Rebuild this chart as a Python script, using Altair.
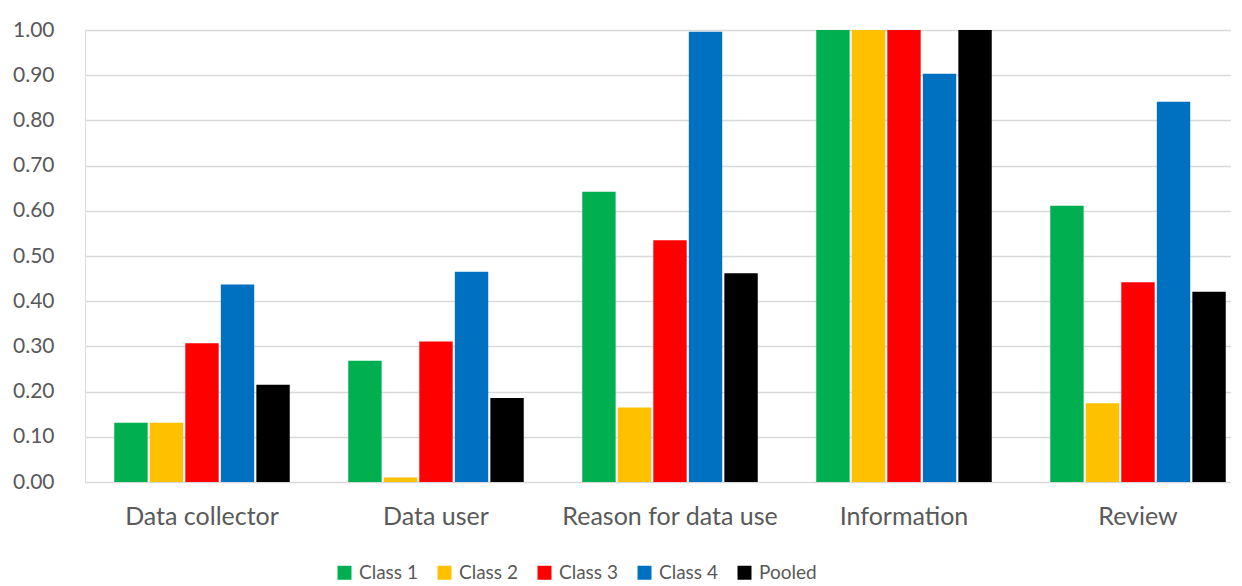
import altair as alt
import pandas as pd

categories = ["Data collector", "Data user", "Reason for data use", "Information", "Review"]
series = ["Class 1", "Class 2", "Class 3", "Class 4", "Pooled"]
colors = ["#00B050", "#FFC000", "#FF0000", "#0070C0", "#000000"]

class1 = [0.131, 0.268, 0.642, 1.000, 0.611]
class2 = [0.131, 0.010, 0.165, 1.000, 0.174]
class3 = [0.307, 0.311, 0.535, 1.000, 0.442]
class4 = [0.437, 0.465, 0.996, 0.903, 0.841]
pooled = [0.215, 0.186, 0.462, 1.000, 0.421]

values = [class1, class2, class3, class4, pooled]
rows = []
for s, vals in zip(series, values):
    for c, v in zip(categories, vals):
        rows.append({"category": c, "series": s, "value": v})
df = pd.DataFrame(rows)

FONT = "Lato"
GRAY = "#595959"

chart = alt.Chart(df).mark_bar().encode(
    x=alt.X("category:N", sort=categories, title=None,
            scale=alt.Scale(paddingInner=0.25, paddingOuter=0.125, range=[0, 1170]),
            axis=alt.Axis(labelAngle=0, labelFontSize=25, labelFont=FONT, labelColor=GRAY,
                          labelFontWeight="normal", labelLimit=0, grid=False,
                          domain=False, ticks=False, labelPadding=22)),
    xOffset=alt.XOffset("series:N", sort=series, scale=alt.Scale(paddingInner=0.06)),
    y=alt.Y("value:Q", title=None,
            scale=alt.Scale(domain=[0, 1], nice=False),
            axis=alt.Axis(values=[i / 10 for i in range(11)], format=".2f",
                          labelFontSize=21, labelFont=FONT, labelColor=GRAY,
                          domain=False, ticks=False, labelPadding=31,
                          gridColor="#D9D9D9", gridWidth=1.5)),
    color=alt.Color("series:N", sort=series,
                    scale=alt.Scale(domain=series, range=colors),
                    legend=alt.Legend(title=None, orient="none", direction="horizontal",
                                      legendX=250, legendY=533,
                                      symbolType="square", symbolSize=196,
                                      symbolStrokeWidth=0,
                                      labelFontSize=19, labelFont=FONT, labelColor=GRAY,
                                      labelOffset=5, columnPadding=17)),
).properties(
    width=1146, height=452,
    autosize=alt.AutoSizeParams(type="none"),
    padding={"left": 77, "top": 22, "right": 0, "bottom": 100},
).configure_view(stroke=None).configure(background="white")

chart.save("out.html", embed_options={"renderer": "svg", "actions": False})
